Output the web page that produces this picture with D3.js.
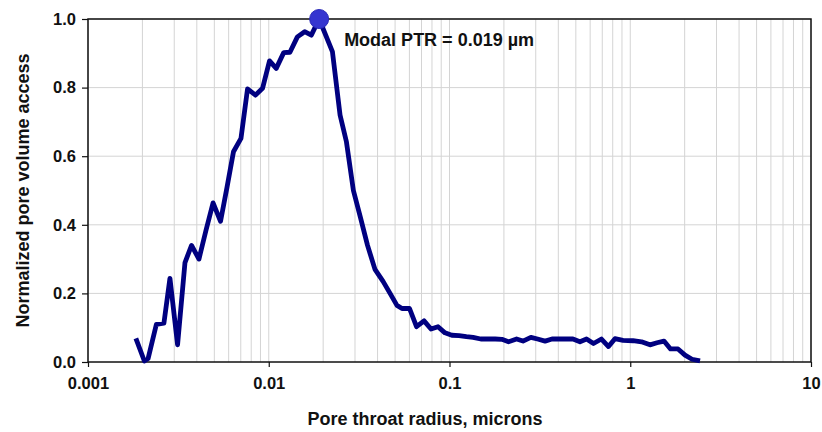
<!DOCTYPE html>
<html>
<head>
<meta charset="utf-8">
<script src="https://cdn.jsdelivr.net/npm/d3@7"></script>
<style>
  body { margin: 0; background: #fff; }
  text { font-family: "Liberation Sans", Arial, sans-serif; font-weight: bold; fill: #111; }
</style>
</head>
<body>
<svg width="822" height="432"></svg>
<script>
// pore throat radius (microns) and normalized pore volume access
const radius = [
  0.00184, 0.00205, 0.00215, 0.00239, 0.00263, 0.00284, 0.00313, 0.00344,
  0.00374, 0.00411, 0.0045, 0.00492, 0.00541, 0.00588, 0.00638, 0.00702,
  0.00763, 0.00845, 0.00924, 0.0101, 0.011, 0.0121, 0.0131, 0.0144,
  0.0158, 0.0172, 0.019, 0.0225, 0.0248, 0.0269, 0.0294, 0.0322,
  0.0352, 0.0387, 0.0429, 0.0469, 0.0512, 0.0546, 0.0601, 0.0657,
  0.0723, 0.079, 0.0864, 0.0944, 0.103, 0.113, 0.124, 0.135,
  0.149, 0.163, 0.179, 0.195, 0.212, 0.235, 0.255, 0.282,
  0.307, 0.338, 0.369, 0.404, 0.441, 0.482, 0.527, 0.573,
  0.626, 0.693, 0.758, 0.823, 0.912, 1.036, 1.154, 1.286,
  1.406, 1.537, 1.67, 1.838, 2.009, 2.196, 2.432
]
const access = [
  0.069, 0.003, 0.01, 0.11, 0.113, 0.244, 0.05, 0.29,
  0.34, 0.3, 0.385, 0.464, 0.41, 0.51, 0.613, 0.652,
  0.796, 0.778, 0.798, 0.878, 0.856, 0.902, 0.903, 0.948,
  0.963, 0.953, 1.0, 0.905, 0.72, 0.642, 0.5, 0.42,
  0.34, 0.27, 0.235, 0.2, 0.165, 0.156, 0.156, 0.103,
  0.12, 0.096, 0.103, 0.085, 0.078, 0.077, 0.074, 0.072,
  0.067, 0.067, 0.067, 0.066, 0.059, 0.067, 0.061, 0.072,
  0.067, 0.061, 0.067, 0.067, 0.067, 0.067, 0.059, 0.067,
  0.054, 0.067, 0.045, 0.068, 0.063, 0.062, 0.059, 0.05,
  0.056, 0.061, 0.038, 0.038, 0.02, 0.008, 0.003
]
const xTicks = [0.001, 0.01, 0.1, 1, 10]
const yTicks = [0, 0.2, 0.4, 0.6, 0.8, 1.0]
const modal = { r: 0.019, v: 1.0, label: "Modal PTR = 0.019 \u00b5m" }

const svg = d3.select("svg")
const margin = { top: 19, right: 11, bottom: 70, left: 88 }
const width = +svg.attr("width") - margin.left - margin.right
const height = +svg.attr("height") - margin.top - margin.bottom
const g = svg.append("g").attr("transform", `translate(${margin.left},${margin.top})`)

const x = d3.scaleLog().domain([0.001, 10]).range([0, width])
const y = d3.scaleLinear().domain([0, 1]).range([height, 0])

// minor + major vertical grid lines
const gridX = []
xTicks.slice(0, -1).forEach(d => { for (let k = 1; k < 10; k++) gridX.push(d * k) })
gridX.push(10)

g.append("g")
  .selectAll("line")
  .data(gridX)
  .join("line")
  .attr("x1", d => x(d)).attr("x2", d => x(d))
  .attr("y1", 0).attr("y2", height)
  .attr("stroke", "#d4d4d4")
  .attr("stroke-width", 1)

g.append("g")
  .selectAll("line")
  .data(yTicks.slice(1))
  .join("line")
  .attr("x1", 0).attr("x2", width)
  .attr("y1", d => y(d)).attr("y2", d => y(d))
  .attr("stroke", "#d4d4d4")
  .attr("stroke-width", 1)

// frame
g.append("rect")
  .attr("width", width).attr("height", height)
  .attr("fill", "none")
  .attr("stroke", "#111")
  .attr("stroke-width", 1.5)

const xAxis = g.append("g")
  .attr("transform", `translate(0,${height})`)
  .call(d3.axisBottom(x).tickValues(xTicks).tickFormat(d3.format("~g")).tickSize(5).tickPadding(10))
const yAxis = g.append("g")
  .call(d3.axisLeft(y).tickValues(yTicks).tickFormat(d3.format(".1f")).tickSize(6).tickPadding(6))

;[xAxis, yAxis].forEach(a => {
  a.select(".domain").remove()
  a.selectAll(".tick line").attr("stroke", "#111").attr("stroke-width", 1.2)
  a.selectAll(".tick text")
    .attr("fill", "#111")
    .style("font-family", "'Liberation Sans', Arial, sans-serif")
    .style("font-weight", "bold")
    .style("font-size", "16.5px")
})

const line = d3.line()
  .x((d, i) => x(radius[i]))
  .y(d => y(d))

g.append("path")
  .datum(access)
  .attr("fill", "none")
  .attr("stroke", "#000080")
  .attr("stroke-width", 4.8)
  .attr("stroke-linejoin", "round")
  .attr("d", line)

g.append("circle")
  .attr("cx", x(modal.r)).attr("cy", y(modal.v))
  .attr("r", 9.5)
  .attr("fill", "#3535d0")
  .attr("stroke", "#2a2ab8")
  .attr("stroke-width", 1)

g.append("text")
  .attr("x", x(modal.r) + 25).attr("y", y(modal.v) + 27)
  .style("font-size", "18px")
  .text(modal.label)

svg.append("text")
  .attr("x", 425).attr("y", 425)
  .attr("text-anchor", "middle")
  .style("font-size", "18px")
  .text("Pore throat radius, microns")

svg.append("text")
  .attr("transform", `translate(29,${margin.top + height / 2}) rotate(-90)`)
  .attr("text-anchor", "middle")
  .style("font-size", "18px")
  .text("Normalized pore volume access")
</script>
</body>
</html>
